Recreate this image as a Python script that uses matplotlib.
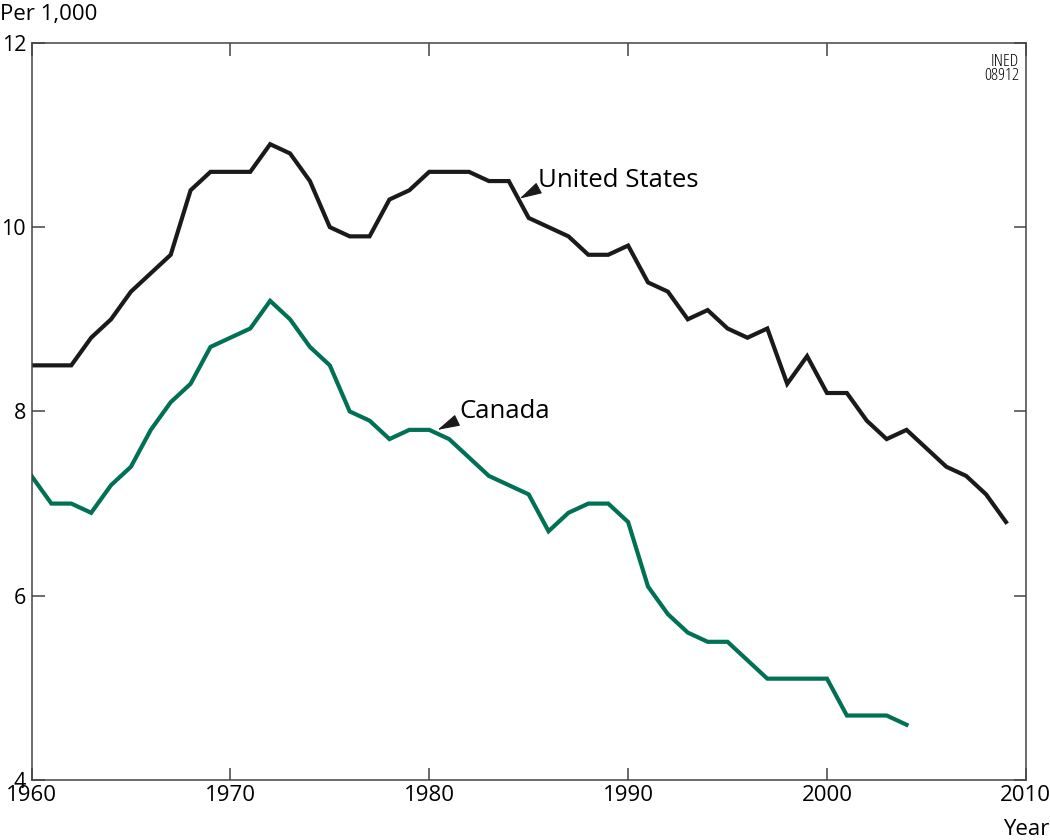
import matplotlib
matplotlib.use('Agg')
import matplotlib.pyplot as plt

plt.rcParams['font.family'] = ['Open Sans', 'DejaVu Sans']

years_us = list(range(1960, 2010))
us = [8.5, 8.5, 8.5, 8.8, 9.0, 9.3, 9.5, 9.7, 10.4, 10.6,
      10.6, 10.6, 10.9, 10.8, 10.5, 10.0, 9.9, 9.9, 10.3, 10.4,
      10.6, 10.6, 10.6, 10.5, 10.5, 10.1, 10.0, 9.9, 9.7, 9.7,
      9.8, 9.4, 9.3, 9.0, 9.1, 8.9, 8.8, 8.9, 8.3, 8.6,
      8.2, 8.2, 7.9, 7.7, 7.8, 7.6, 7.4, 7.3, 7.1, 6.8]

years_ca = list(range(1960, 2005))
canada = [7.3, 7.0, 7.0, 6.9, 7.2, 7.4, 7.8, 8.1, 8.3, 8.7,
          8.8, 8.9, 9.2, 9.0, 8.7, 8.5, 8.0, 7.9, 7.7, 7.8,
          7.8, 7.7, 7.5, 7.3, 7.2, 7.1, 6.7, 6.9, 7.0, 7.0,
          6.8, 6.1, 5.8, 5.6, 5.5, 5.5, 5.3, 5.1, 5.1, 5.1,
          5.1, 4.7, 4.7, 4.7, 4.6]

xticks = [1960, 1970, 1980, 1990, 2000, 2010]
yticks = [4, 6, 8, 10, 12]

fig = plt.figure(figsize=(10.5, 8.4), dpi=100)
ax = fig.add_axes([0.030, 0.0714, 0.947, 0.8776])

ax.plot(years_us, us, color='#1a1a1a', lw=3.0, solid_joinstyle='miter')
ax.plot(years_ca, canada, color='#007155', lw=3.0, solid_joinstyle='miter')

ax.set_xlim(1960, 2010)
ax.set_ylim(4, 12)
ax.set_xticks(xticks)
ax.set_yticks(yticks)
ax.tick_params(direction='in', length=9, width=1.1, color='#444444',
               top=True, right=True, labelsize=16)
ax.tick_params(axis='y', pad=4, labelsize=15.5)
for s in ax.spines.values():
    s.set_color('#444444')
    s.set_linewidth(1.1)

# label pointers: small wedges touching the lines
head = dict(arrowstyle='-|>,head_length=1.4,head_width=0.38',
            color='#1a1a1a', lw=0.8, shrinkA=0, shrinkB=0)
ax.annotate('', xy=(1984.55, 10.31), xytext=(1985.4, 10.41), arrowprops=head)
ax.annotate('', xy=(1980.42, 7.80), xytext=(1981.38, 7.90), arrowprops=head)

ax.text(1985.45, 10.44, 'United States', fontsize=18.5, va='baseline', ha='left')
ax.text(1981.5, 7.93, 'Canada', fontsize=18.5, va='baseline', ha='left')

ax.text(0.993, 0.985, 'INED\n08912', transform=ax.transAxes, ha='right',
        va='top', fontsize=12.5, fontstretch='condensed', linespacing=0.85)

fig.text(0.0, 0.983, 'Per 1,000', fontsize=16, ha='left', va='center')
fig.text(0.999, 0.012, 'Year', fontsize=16, ha='right', va='center')

fig.savefig('out.png', dpi=100)
